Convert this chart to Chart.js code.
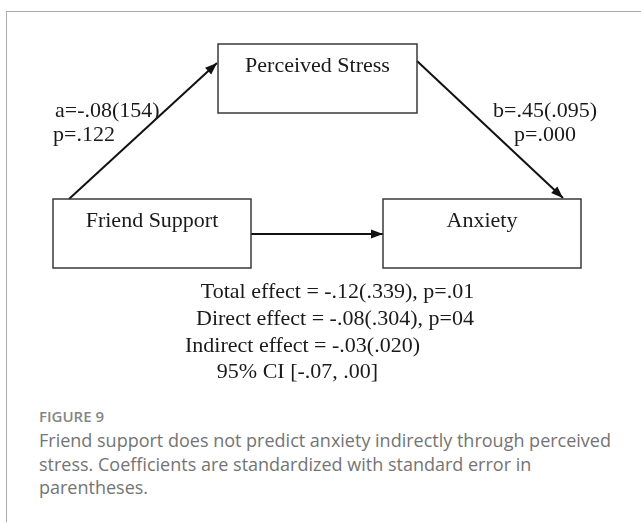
<!DOCTYPE html>
<html>
<head>
<meta charset="utf-8">
<script src="https://cdn.jsdelivr.net/npm/chart.js@4/dist/chart.umd.min.js"></script>
<style>
    body { margin: 0; background: #fff; }
    #frame {
        position: absolute; left: 6px; top: 11px; width: 640px; height: 510px;
        border-top: 1px solid #aaa; border-left: 1px solid #aaa;
    }
    #wrap { position: absolute; left: 0; top: 0; width: 641px; height: 400px; }
    .fig { position: absolute; left: 39px; top: 405px; font-family: "Open Sans", sans-serif;
        font-size: 15px; line-height: 22px; font-weight: 600; color: #858585; }
    .cap { position: absolute; left: 39px; top: 429px; width: 590px; font-family: "Open Sans", sans-serif;
        font-size: 18px; line-height: 23.5px; color: #747474; }
</style>
</head>
<body>
<div id="frame"></div>
<div id="wrap"><canvas id="diagram" width="641" height="400"></canvas></div>
<div class="fig">FIGURE 9</div>
<div class="cap">Friend support does not predict anxiety indirectly through perceived stress. Coefficients are standardized with standard error in parentheses.</div>
<script>
// diagram units = page pixels, mapped through the hidden linear scales
const boxNames = ["Perceived Stress", "Friend Support", "Anxiety"];
const boxX = [[218, 417], [53, 251], [383, 581]];
const boxY = [[44, 113], [199, 268], [199, 268]];
const boxTextY = [66.5, 221.5, 221.5];

const pathNames = ["a", "b", "c"];
const pathFrom = [[69, 199], [417, 61], [251, 234]];
const pathTo = [[217, 63], [563, 198], [383, 234]];

const pathLabels = ["a=-.08(154)", "p=.122", "b=.45(.095)", "p=.000"];
const pathLabelX = [55, 53, 493, 514];
const pathLabelY = [111.5, 135.5, 111.5, 135.5];

const effectLines = [
    "Total effect = -.12(.339), p=.01",
    "Direct effect = -.08(.304), p=04",
    "Indirect effect = -.03(.020)",
    "95% CI [-.07, .00]",
];
const effectX = [337.5, 335, 302.5, 297.5];
const effectY = [292.5, 319.5, 346.5, 372.5];

const serif = '"Liberation Serif", "Times New Roman", serif';

const diagramPlugin = {
    id: "diagram",
    afterDatasetsDraw(chart) {
        const ctx = chart.ctx;
        const xs = chart.scales.x;
        const ys = chart.scales.y;
        ctx.save();

        // boxes
        ctx.strokeStyle = "#3a3a3a";
        ctx.lineWidth = 1.5;
        ctx.fillStyle = "#1a1a1a";
        ctx.font = "22px " + serif;
        ctx.textAlign = "center";
        ctx.textBaseline = "middle";
        for (let i = 0; i < boxNames.length; i++) {
            const x1 = xs.getPixelForValue(boxX[i][0]);
            const x2 = xs.getPixelForValue(boxX[i][1]);
            const y1 = ys.getPixelForValue(boxY[i][0]);
            const y2 = ys.getPixelForValue(boxY[i][1]);
            ctx.strokeRect(x1, y1, x2 - x1, y2 - y1);
            ctx.fillText(boxNames[i], (x1 + x2) / 2, ys.getPixelForValue(boxTextY[i]));
        }

        // arrow heads
        ctx.fillStyle = "#111";
        for (let i = 0; i < pathNames.length; i++) {
            const fx = xs.getPixelForValue(pathFrom[i][0]);
            const fy = ys.getPixelForValue(pathFrom[i][1]);
            const tx = xs.getPixelForValue(pathTo[i][0]);
            const ty = ys.getPixelForValue(pathTo[i][1]);
            const ang = Math.atan2(ty - fy, tx - fx);
            const len = 12, half = 4.5;
            ctx.beginPath();
            ctx.moveTo(tx, ty);
            ctx.lineTo(tx - len * Math.cos(ang) + half * Math.sin(ang), ty - len * Math.sin(ang) - half * Math.cos(ang));
            ctx.lineTo(tx - len * Math.cos(ang) - half * Math.sin(ang), ty - len * Math.sin(ang) + half * Math.cos(ang));
            ctx.closePath();
            ctx.fill();
        }

        // path labels
        ctx.fillStyle = "#1a1a1a";
        ctx.textAlign = "left";
        for (let i = 0; i < pathLabels.length; i++) {
            ctx.fillText(pathLabels[i], xs.getPixelForValue(pathLabelX[i]), ys.getPixelForValue(pathLabelY[i]));
        }

        // effect summary
        ctx.textAlign = "center";
        for (let i = 0; i < effectLines.length; i++) {
            ctx.fillText(effectLines[i], xs.getPixelForValue(effectX[i]), ys.getPixelForValue(effectY[i]));
        }
        ctx.restore();
    },
};

const datasets = [];
for (let i = 0; i < pathNames.length; i++) {
    datasets.push({
        label: pathNames[i],
        data: [
            { x: pathFrom[i][0], y: pathFrom[i][1] },
            { x: pathTo[i][0], y: pathTo[i][1] },
        ],
        showLine: true,
        borderColor: "#111",
        borderWidth: 2,
        pointRadius: 0,
        fill: false,
    });
}

new Chart(document.getElementById("diagram"), {
    type: "scatter",
    data: { datasets: datasets },
    options: {
        responsive: false,
        animation: false,
        layout: { padding: 0 },
        plugins: {
            legend: { display: false },
            tooltip: { enabled: false },
        },
        scales: {
            x: { type: "linear", min: 0, max: 641, display: false },
            y: { type: "linear", min: 0, max: 400, reverse: true, display: false },
        },
    },
    plugins: [diagramPlugin],
});
</script>
</body>
</html>
